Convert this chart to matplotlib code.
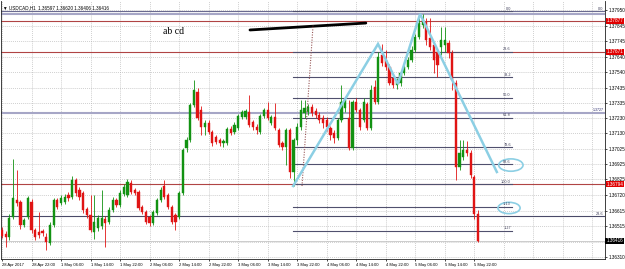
import matplotlib
matplotlib.use("Agg")
import matplotlib.pyplot as plt
from matplotlib.patches import Rectangle, Ellipse
import matplotlib.transforms as mtransforms

# ---------------- data (USDCAD H1) ----------------
opens = [1.36489, 1.36462, 1.36442, 1.36575, 1.36688, 1.36675, 1.36522, 1.36575, 1.36675, 1.36489,
         1.36476, 1.36482, 1.36442, 1.36403, 1.36522, 1.36688, 1.36668, 1.36675, 1.36721, 1.36708,
         1.36821, 1.36754, 1.36735, 1.36628, 1.36588, 1.36476, 1.36502, 1.36515, 1.36562, 1.36542,
         1.36622, 1.36688, 1.36655, 1.36728, 1.36721, 1.36801, 1.36754, 1.36741, 1.36642, 1.36608,
         1.36575, 1.36535, 1.36602, 1.36688, 1.36781, 1.36721, 1.36642, 1.36588, 1.36575, 1.36735,
         1.37033, 1.37086, 1.37319, 1.37405, 1.37286, 1.37173, 1.37199, 1.37140, 1.37106, 1.37086,
         1.37066, 1.37066, 1.37159, 1.37140, 1.37166, 1.37239, 1.37239, 1.37272, 1.37206, 1.37173,
         1.37140, 1.37246, 1.37286, 1.37199, 1.37239, 1.37153, 1.37066, 1.37040, 1.37153, 1.36874,
         1.37086, 1.37173, 1.37266, 1.37272, 1.37306, 1.37279, 1.37252, 1.37233, 1.37219, 1.37166,
         1.37133, 1.37100, 1.37219, 1.37299, 1.37233, 1.37033, 1.37339, 1.37286, 1.37219, 1.37325,
         1.37166, 1.37438, 1.37339, 1.37651, 1.37618, 1.37571, 1.37498, 1.37452, 1.37465, 1.37531,
         1.37571, 1.37618, 1.37684, 1.37770, 1.37850, 1.37870, 1.37764, 1.37717, 1.37671, 1.37704,
         1.37717, 1.37730, 1.37664, 1.37465, 1.36907, 1.36974, 1.37020, 1.37000, 1.36841, 1.36597]
highs = [1.36509, 1.36482, 1.36595, 1.36960, 1.36887, 1.36688, 1.36569, 1.36715, 1.36695, 1.36502,
         1.36608, 1.36495, 1.36469, 1.36542, 1.36701, 1.36701, 1.36721, 1.36728, 1.36741, 1.36847,
         1.36834, 1.36774, 1.36748, 1.36642, 1.36721, 1.36721, 1.36588, 1.36754, 1.36582, 1.36642,
         1.36708, 1.36701, 1.36754, 1.36794, 1.36827, 1.36821, 1.36768, 1.36754, 1.36655, 1.36622,
         1.36588, 1.36622, 1.36701, 1.36774, 1.36821, 1.36735, 1.36655, 1.36602, 1.36748, 1.37033,
         1.37106, 1.37332, 1.37485, 1.37432, 1.37312, 1.37219, 1.37219, 1.37153, 1.37120, 1.37100,
         1.37093, 1.37173, 1.37179, 1.37206, 1.37259, 1.37286, 1.37292, 1.37385, 1.37219, 1.37193,
         1.37259, 1.37299, 1.37339, 1.37252, 1.37332, 1.37166, 1.37080, 1.37166, 1.37166, 1.37100,
         1.37199, 1.37352, 1.37352, 1.37325, 1.37325, 1.37299, 1.37272, 1.37252, 1.37239, 1.37179,
         1.37153, 1.37233, 1.37452, 1.37372, 1.37352, 1.37352, 1.37365, 1.37299, 1.37365, 1.37339,
         1.37452, 1.37485, 1.37671, 1.37724, 1.37684, 1.37591, 1.37518, 1.37498, 1.37551, 1.37591,
         1.37638, 1.37711, 1.37790, 1.37896, 1.37923, 1.37896, 1.37896, 1.37730, 1.37697, 1.37837,
         1.37837, 1.37750, 1.37684, 1.37485, 1.37086, 1.37086, 1.37080, 1.37020, 1.36854, 1.36620]
lows = [1.36436, 1.36376, 1.36422, 1.36562, 1.36648, 1.36495, 1.36509, 1.36562, 1.36469, 1.36422,
        1.36436, 1.36449, 1.36356, 1.36389, 1.36509, 1.36628, 1.36655, 1.36661, 1.36681, 1.36695,
        1.36715, 1.36688, 1.36602, 1.36569, 1.36476, 1.36429, 1.36482, 1.36495, 1.36376, 1.36529,
        1.36608, 1.36642, 1.36642, 1.36715, 1.36708, 1.36728, 1.36721, 1.36622, 1.36595, 1.36529,
        1.36515, 1.36522, 1.36588, 1.36675, 1.36695, 1.36628, 1.36529, 1.36489, 1.36562, 1.36721,
        1.37007, 1.37073, 1.37306, 1.37219, 1.37120, 1.37120, 1.37126, 1.37047, 1.37060, 1.37047,
        1.37040, 1.37053, 1.37120, 1.37126, 1.37153, 1.37226, 1.37226, 1.37173, 1.37153, 1.37126,
        1.37126, 1.37233, 1.37219, 1.37186, 1.37153, 1.37040, 1.37020, 1.36920, 1.36834, 1.36781,
        1.37053, 1.37153, 1.37233, 1.37252, 1.37246, 1.37233, 1.37199, 1.37166, 1.37146, 1.37086,
        1.37066, 1.37086, 1.37206, 1.37272, 1.37020, 1.37020, 1.37272, 1.37153, 1.37206, 1.37153,
        1.37153, 1.37325, 1.37325, 1.37578, 1.37551, 1.37452, 1.37432, 1.37425, 1.37445, 1.37518,
        1.37558, 1.37604, 1.37671, 1.37757, 1.37830, 1.37717, 1.37684, 1.37531, 1.37505, 1.37651,
        1.37671, 1.37631, 1.37418, 1.36821, 1.36887, 1.36954, 1.36980, 1.36834, 1.36562, 1.36406]
closes = [1.36449, 1.36442, 1.36569, 1.36701, 1.36668, 1.36522, 1.36555, 1.36701, 1.36489, 1.36442,
          1.36456, 1.36469, 1.36409, 1.36522, 1.36688, 1.36642, 1.36701, 1.36708, 1.36701, 1.36821,
          1.36735, 1.36708, 1.36622, 1.36588, 1.36489, 1.36542, 1.36569, 1.36569, 1.36535, 1.36622,
          1.36688, 1.36655, 1.36735, 1.36774, 1.36808, 1.36741, 1.36735, 1.36635, 1.36608, 1.36542,
          1.36535, 1.36608, 1.36688, 1.36754, 1.36708, 1.36642, 1.36542, 1.36542, 1.36735, 1.37020,
          1.37086, 1.37319, 1.37418, 1.37233, 1.37173, 1.37199, 1.37140, 1.37066, 1.37073, 1.37066,
          1.37080, 1.37159, 1.37133, 1.37186, 1.37246, 1.37272, 1.37279, 1.37186, 1.37173, 1.37153,
          1.37246, 1.37286, 1.37233, 1.37239, 1.37166, 1.37053, 1.37040, 1.37153, 1.36874, 1.37086,
          1.37173, 1.37286, 1.37299, 1.37306, 1.37266, 1.37252, 1.37219, 1.37199, 1.37173, 1.37120,
          1.37100, 1.37219, 1.37339, 1.37352, 1.37033, 1.37339, 1.37286, 1.37173, 1.37339, 1.37166,
          1.37418, 1.37339, 1.37638, 1.37598, 1.37571, 1.37465, 1.37452, 1.37472, 1.37531, 1.37571,
          1.37618, 1.37684, 1.37770, 1.37863, 1.37883, 1.37750, 1.37704, 1.37618, 1.37584, 1.37750,
          1.37750, 1.37664, 1.37485, 1.36907, 1.37000, 1.37020, 1.37000, 1.36854, 1.36595, 1.36416]

date_labels = ["28 Apr 2017", "28 Apr 22:00", "1 May 06:00", "1 May 14:00", "1 May 22:00",
               "2 May 06:00", "2 May 14:00", "2 May 22:00", "3 May 06:00", "3 May 14:00",
               "3 May 22:00", "4 May 06:00", "4 May 14:00", "4 May 22:00", "5 May 06:00",
               "5 May 14:00", "5 May 22:00"]
date_label_bars = [0, 8, 16, 24, 32, 40, 48, 56, 64, 72, 80, 88, 96, 104, 112, 120, 128]
grid_bars = date_label_bars + [136, 144, 152, 160]

price_ticks = [1.37950, 1.37845, 1.37745, 1.37640, 1.37540, 1.37435, 1.37335, 1.37230, 1.37130,
               1.37025, 1.36925, 1.36825, 1.36720, 1.36615, 1.36515, 1.36410, 1.36310]
hidden_tick_labels = [1.36410]   # covered by the bid price box

red_levels = [1.37877, 1.37671, 1.36794]
lavender_levels = [1.37923, 1.37266]
bid_price = 1.36416

fib_ratios = [0.0, 0.236, 0.382, 0.5, 0.618, 0.786, 0.886, 1.0, 1.13, 1.27]
fib_texts = ["0.0", "23.6", "38.2", "50.0", "61.8", "78.6", "88.6", "100.0", "1.13", "1.27"]
fib_high = 1.37943
fib_low = 1.36794
fib_x = [78.9, 138.2]
fib2_level_236 = 1.36582

abcd_x = [78.9, 101.9, 107.3, 113.3, 134.1]
abcd_y = [1.36781, 1.37724, 1.37458, 1.37923, 1.36874]

trend_x = [67.2, 98.6]
trend_y = [1.37817, 1.37863]
dotted_x = [81.3, 84.3]
dotted_y = [1.36781, 1.37850]

ellipses = [(137.9, 1.36920, 6.6, 0.00082), (137.4, 1.36635, 6.0, 0.00075)]

title_text = "USDCAD,H1  1.36597 1.36620 1.36406 1.36416"

# ---------------- drawing ----------------
W, H = 625, 269
fig = plt.figure(figsize=(W / 100, H / 100), dpi=100)
fig.patch.set_facecolor("white")
ax = fig.add_axes([1 / W, 10 / H, 604 / W, 258 / H])
ax.set_facecolor("white")
ax.set_xlim(-0.271, 163.41)
ax.set_ylim(1.362962, 1.380094)

FONT = ["Liberation Sans", "DejaVu Sans"]
grid_kw = dict(color="#b4b4b4", lw=0.5, linestyle=(0, (1.2, 1.6)), zorder=0)
for b in grid_bars:
    ax.axvline(b, **grid_kw)
for p in price_ticks:
    ax.axhline(p, **grid_kw)

# horizontal objects
ax.axhline(fib_high, color="#6a6a90", lw=0.8, zorder=1)
for p in lavender_levels:
    ax.axhline(p, color="#a6a6c6", lw=1.5, zorder=1)
for p in red_levels:
    ax.axhline(p, color="#b04444", lw=0.8, zorder=1)
ax.axhline(fib2_level_236, color="#4a4a68", lw=0.8, zorder=1)
ax.axhline(bid_price, color="#c4c4c4", lw=0.6, zorder=1)

# fibonacci levels
for r, t in zip(fib_ratios, fib_texts):
    p = fib_high - r * (fib_high - fib_low)
    ax.plot(fib_x, [p, p], color="#50506e", lw=0.8, zorder=1.5)
    ax.text(fib_x[1] - 0.3, p + 0.00003, t, fontsize=2.8, color="#40405a",
            ha="right", va="bottom", family=FONT, zorder=5)
ax.text(163.0, fib_high + 0.00003, "0.0", fontsize=2.8, color="#40405a",
        ha="right", va="bottom", family=FONT, zorder=5)
ax.text(163.0, fib2_level_236 + 0.00003, "23.6", fontsize=2.8, color="#40405a",
        ha="right", va="bottom", family=FONT, zorder=5)
ax.text(163.0, lavender_levels[1] + 0.00004, "1.3727", fontsize=2.6, color="#26266a",
        ha="right", va="bottom", family=FONT, zorder=5)

# candles
for i, (o, h, l, c) in enumerate(zip(opens, highs, lows, closes)):
    col = "#129212" if c >= o else "#e01414"
    ax.plot([i, i], [l, h], color=col, lw=0.6, zorder=3, solid_capstyle="butt")
    lo, hi = min(o, c), max(o, c)
    if hi - lo < 0.00003:
        hi = lo + 0.00003
    ax.add_patch(Rectangle((i - 0.3, lo), 0.6, hi - lo, facecolor=col,
                           edgecolor=col, lw=0.3, zorder=3.5))

# drawings
ax.plot(trend_x, trend_y, color="black", lw=2.0, zorder=4, solid_capstyle="round")
ax.plot(dotted_x, dotted_y, color="#985858", lw=0.8, linestyle=(0, (1, 1.3)), zorder=4)
ax.plot(abcd_x, abcd_y, color="#8ccfe4", lw=1.8, zorder=4.5, solid_joinstyle="miter")
for cx, cy, w, h in ellipses:
    ax.add_patch(Ellipse((cx, cy), w, h, fill=False, edgecolor="#8ccfe4", lw=1.2, zorder=4.5))

ax.text(43.6, 1.37804, "ab cd", fontsize=7.0, family=["Liberation Serif", "DejaVu Serif"],
        ha="left", va="center", color="black", zorder=5)

# title
ax.text(0.003, 0.985, "\u25bc " + title_text, transform=ax.transAxes, fontsize=3.3,
        family=FONT, ha="left", va="top", color="black", zorder=6)

# axes styling
ax.spines["top"].set_visible(False)
for s in ["left", "right", "bottom"]:
    ax.spines[s].set_color("#202020")
    ax.spines[s].set_linewidth(0.6)

ax.yaxis.tick_right()
ax.set_yticks(price_ticks)
ax.set_yticklabels(["" if p in hidden_tick_labels else f"{p:.5f}" for p in price_ticks],
                   fontsize=3.3, family=FONT)
ax.tick_params(axis="y", length=1.5, width=0.5, pad=1.0, colors="black")
ax.set_xticks(date_label_bars)
ax.set_xticklabels(date_labels, fontsize=3.0, family=FONT)
for lbl in ax.get_xticklabels():
    lbl.set_ha("left")
ax.tick_params(axis="x", length=1.5, width=0.5, pad=1.2, colors="black")

# price boxes on the right axis
trans = mtransforms.blended_transform_factory(ax.transAxes, ax.transData)
for p in red_levels:
    ax.text(1.002, p, f"{p:.5f}", transform=trans, fontsize=3.3, family=FONT, color="white",
            ha="left", va="center", zorder=7, clip_on=False,
            bbox=dict(boxstyle="square,pad=0.15", facecolor="#e00000", edgecolor="none"))
ax.text(1.002, bid_price, f"{bid_price:.5f}", transform=trans, fontsize=3.3, family=FONT,
        color="white", ha="left", va="center", zorder=7, clip_on=False,
        bbox=dict(boxstyle="square,pad=0.2", facecolor="black", edgecolor="none"))

fig.savefig("out.png", dpi=100, facecolor="white")
